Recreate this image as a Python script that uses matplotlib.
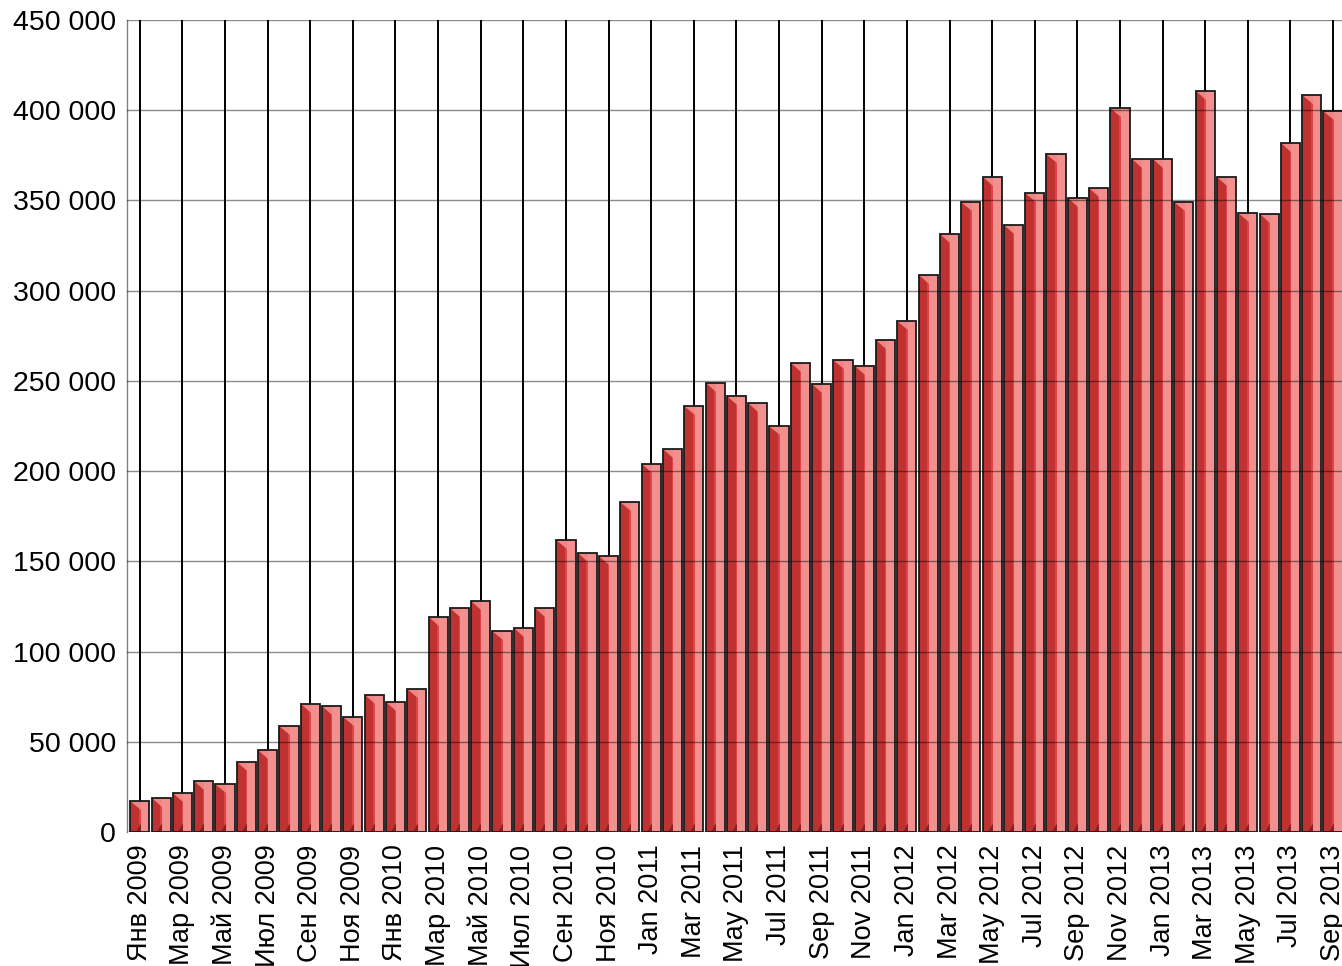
import numpy as np
import matplotlib
matplotlib.use('Agg')
import matplotlib.pyplot as plt
from matplotlib.patches import Polygon

plt.rcParams['font.family'] = ['Liberation Sans', 'DejaVu Sans']

# monthly values, Jan 2009 .. Sep 2013
values = [17000, 19000, 21500, 28000, 26500, 39000, 45500, 59000, 71000, 70000, 64000, 76000,
          72000, 79000, 119000, 124000, 128000, 111500, 113000, 124000, 162000, 154500, 153000, 183000,
          204000, 212000, 236000, 249000, 241500, 237500, 225000, 260000, 248500, 261500, 258500, 272500,
          283000, 308500, 331500, 349000, 363000, 336500, 354000, 375500, 351500, 357000, 401500, 373000,
          373000, 349000, 410500, 363000, 343000, 342500, 382000, 408500, 399500]

tick_labels = ['Янв 2009', 'Мар 2009', 'Май 2009', 'Июл 2009', 'Сен 2009', 'Ноя 2009',
               'Янв 2010', 'Мар 2010', 'Май 2010', 'Июл 2010', 'Сен 2010', 'Ноя 2010',
               'Jan 2011', 'Mar 2011', 'May 2011', 'Jul 2011', 'Sep 2011', 'Nov 2011',
               'Jan 2012', 'Mar 2012', 'May 2012', 'Jul 2012', 'Sep 2012', 'Nov 2012',
               'Jan 2013', 'Mar 2013', 'May 2013', 'Jul 2013', 'Sep 2013']

x = np.arange(len(values))
w = 0.9
bevel = 5000

fig = plt.figure(figsize=(13.42, 9.66), dpi=100)
ax = fig.add_axes([127 / 1342, 134 / 966, 1 - 127 / 1342, 812 / 966])

# vertical lines behind bars at labelled months
for xi in x[::2]:
    ax.axvline(xi, color='black', lw=1.4, zorder=1)

# dark left part
ax.bar(x, values, width=w, color='#c03232', edgecolor='none', zorder=2)
# pink right part
ax.bar(x + w * 0.04, values, width=w / 2 - w * 0.04, align='edge', color='#f29090', edgecolor='none', zorder=3)
# thin bright stripe at the middle
ax.bar(x - w * 0.04, values, width=w * 0.08, align='edge', color='#e04444', edgecolor='none', zorder=3)

for xi, v in zip(x, values):
    # top bevel
    ax.add_patch(Polygon([(xi - w / 2, v), (xi + w * 0.04, v), (xi + w * 0.04, v - bevel)], closed=True,
                         facecolor='#ee8686', edgecolor='none', zorder=4))
    # bottom shadow
    ax.add_patch(Polygon([(xi - w * 0.22, 0), (xi + w * 0.04, 0), (xi + w * 0.04, bevel)], closed=True,
                         facecolor='#8e1e1e', edgecolor='none', zorder=4))

# outlines
ax.bar(x, values, width=w, color='none', edgecolor='#1a1a1a', linewidth=1.3, zorder=5)

# horizontal grid over bars
for yv in range(50000, 450001, 50000):
    ax.axhline(yv, color='black', lw=1.0, alpha=0.45, zorder=6)

ax.set_xlim(-0.6, 56.42)
ax.set_ylim(0, 450000)
ax.set_yticks(range(0, 450001, 50000))
ax.set_yticklabels(['0'] + ['{:,}'.format(v).replace(',', ' ') for v in range(50000, 450001, 50000)])
ax.set_xticks(x[::2])
ax.set_xticklabels(tick_labels, rotation=90)
ax.tick_params(axis='y', length=0, pad=8, labelsize=20.5)
ax.tick_params(axis='x', length=0, pad=9, labelsize=19.5)

for s in ['top', 'right', 'bottom']:
    ax.spines[s].set_visible(False)
ax.spines['left'].set_color('#808080')
ax.spines['left'].set_linewidth(1.0)
ax.axhline(0, color='#1a1a1a', lw=1.0, zorder=7)

fig.savefig('out.png', dpi=100)
